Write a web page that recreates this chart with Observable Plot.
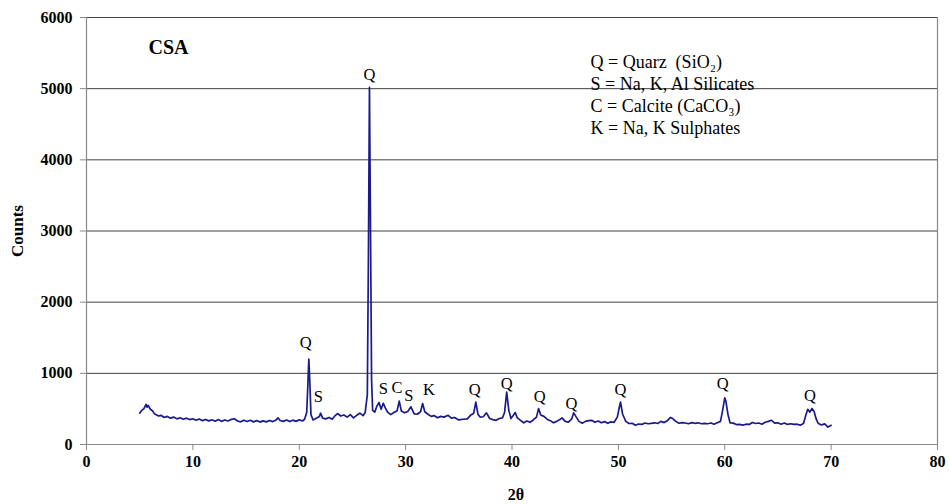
<!DOCTYPE html>
<html>
<head>
<meta charset="utf-8">
<script src="https://cdn.jsdelivr.net/npm/d3@7"></script>
<script src="https://cdn.jsdelivr.net/npm/@observablehq/plot@0.6"></script>
<style>
  html, body { margin: 0; padding: 0; background: #fff; }
  #chart { width: 949px; height: 504px; }
  #chart svg, #chart svg text { font-family: "Liberation Serif", "Times New Roman", serif; }
</style>
</head>
<body>
<div id="chart"></div>
<script>
// 2θ positions (degrees) of the XRD trace
const twoTheta = [
  5.0,5.2,5.4,5.6,5.7,5.8,6.0,6.2,6.4,6.6,6.8,7.0,7.3,7.6,7.9,8.2,8.5,8.8,9.1,9.4,9.7,
  10.0,10.3,10.6,10.9,11.2,11.5,11.8,12.1,12.4,12.7,13.0,13.3,13.6,13.9,14.2,14.5,14.8,
  15.1,15.4,15.7,16.0,16.3,16.6,16.9,17.2,17.5,17.8,18.0,18.2,18.5,18.8,19.1,19.4,19.7,
  20.0,20.3,20.5,20.7,20.8,20.9,21.0,21.1,21.3,21.6,21.9,22.0,22.2,22.5,22.8,23.1,23.4,
  23.6,23.9,24.2,24.5,24.8,25.1,25.4,25.7,26.0,26.2,26.4,26.5,26.6,26.7,26.8,26.9,27.1,
  27.3,27.5,27.7,27.9,28.1,28.3,28.6,28.9,29.2,29.4,29.6,29.9,30.2,30.5,30.8,31.1,31.4,
  31.6,31.8,32.1,32.4,32.7,33.0,33.3,33.6,34.0,34.3,34.6,35.0,35.4,35.8,36.1,36.4,36.6,
  36.8,37.0,37.3,37.6,37.9,38.2,38.5,38.8,39.1,39.3,39.5,39.7,39.9,40.1,40.3,40.5,40.8,
  41.1,41.4,41.7,42.0,42.3,42.5,42.7,43.0,43.3,43.6,43.9,44.2,44.5,44.7,45.0,45.3,45.6,
  45.8,46.0,46.3,46.6,46.9,47.2,47.5,47.8,48.1,48.4,48.7,49.0,49.3,49.6,49.9,50.1,50.2,
  50.4,50.7,51.0,51.3,51.6,51.9,52.2,52.5,52.8,53.1,53.4,53.7,54.0,54.3,54.6,54.9,55.1,
  55.4,55.7,56.0,56.3,56.6,56.9,57.2,57.5,57.8,58.1,58.4,58.7,59.0,59.3,59.6,59.8,60.0,
  60.1,60.3,60.5,60.8,61.1,61.4,61.7,62.0,62.3,62.6,62.9,63.2,63.5,63.8,64.1,64.4,64.7,
  65.0,65.3,65.6,65.9,66.2,66.5,66.8,67.1,67.4,67.6,67.8,68.0,68.2,68.4,68.6,68.8,69.1,
  69.4,69.7,70.0
];
// Counts
const counts = [
  440,480,505,565,525,550,495,475,430,415,400,410,380,395,370,385,360,375,355,370,350,
  362,340,358,335,352,332,348,328,350,325,345,330,352,362,330,318,342,
  322,340,318,336,315,332,318,338,322,342,375,338,325,345,322,342,325,
  348,330,355,450,800,1200,850,420,345,370,395,440,370,360,380,355,410,
  435,400,415,385,420,375,410,440,405,450,700,2600,5020,3000,900,480,455,
  540,590,495,580,510,455,420,450,475,610,470,445,465,530,430,425,460,
  575,460,425,395,405,375,395,385,410,370,380,345,355,360,410,440,595,
  425,385,390,445,365,350,340,365,375,450,735,480,365,405,450,375,340,
  305,330,312,345,385,505,415,395,355,335,305,325,350,375,325,315,355,
  445,395,325,300,325,335,340,312,330,305,322,298,318,312,385,530,595,
  425,325,295,298,270,288,282,302,292,298,305,295,325,308,335,380,365,
  325,298,308,302,292,308,298,305,292,298,292,302,285,305,325,480,655,
  615,425,305,300,280,282,272,285,282,310,295,302,285,312,325,340,300,
  305,285,302,282,292,282,285,272,295,400,495,455,505,465,355,295,275,
  290,245,270
];
// Peak annotations: label, 2θ, label height (counts)
const peakLabels = ["Q","S","Q","S","C","S","K","Q","Q","Q","Q","Q","Q","Q"];
const peakTheta  = [20.6,21.8,26.6,27.9,29.2,30.3,32.2,36.5,39.5,42.6,45.6,50.2,59.8,68.0];
const peakCounts = [1430,670,5200,790,800,690,770,770,860,670,580,770,860,690];

const xTicks = [0,10,20,30,40,50,60,70,80];
const yTicks = [0,1000,2000,3000,4000,5000,6000];
const gridValues = [1000,2000,3000,4000,5000,6000];
const legendLines = [
  "Q = Quarz  (SiO\u2082)",
  "S = Na, K, Al Silicates",
  "C = Calcite (CaCO\u2083)",
  "K = Na, K Sulphates"
];
const title = "CSA";
const xLabel = "2\u03b8";
const yLabel = "Counts";

const trace = twoTheta.map((t, i) => ({t, c: counts[i]}));
const peaks = peakLabels.map((l, i) => ({l, t: peakTheta[i], c: peakCounts[i]}));

const serif = "Liberation Serif, Times New Roman, serif";

const chart = Plot.plot({
  width: 949,
  height: 504,
  marginLeft: 86,
  marginRight: 12,
  marginTop: 17,
  marginBottom: 60,
  style: {fontFamily: serif, background: "#fff", overflow: "visible"},
  x: {domain: [0, 80], label: null},
  y: {domain: [0, 6000], label: null},
  marks: [
    Plot.ruleY(gridValues, {stroke: "#404040", strokeWidth: 1}),
    Plot.ruleX([80], {stroke: "#888", strokeWidth: 1.2}),
    Plot.ruleX([0], {stroke: "#888", strokeWidth: 1.2}),
    Plot.ruleY([0], {stroke: "#888", strokeWidth: 1.2}),
    Plot.axisX({ticks: xTicks, tickSize: 6, tickPadding: 5, stroke: "#888",
      fontSize: 16, fontWeight: "bold", fill: "#000", fontFamily: serif, tickFormat: "d", label: null}),
    Plot.axisY({ticks: yTicks, tickSize: 6, tickPadding: 8, stroke: "#888",
      fontSize: 16, fontWeight: "bold", fill: "#000", fontFamily: serif, tickFormat: "d", label: null}),
    Plot.line(trace, {x: "t", y: "c", stroke: "#1a1a8c", strokeWidth: 1.7, strokeLinejoin: "round"}),
    Plot.text(peaks, {x: "t", y: "c", text: "l", fontSize: 16.5, fill: "#000", fontFamily: serif}),
    Plot.text([title], {frameAnchor: "top-left", dx: 62, dy: 30, textAnchor: "start",
      lineAnchor: "middle", fontSize: 20, fontWeight: "bold", fill: "#000", fontFamily: serif}),
    Plot.text([legendLines.join("\n")], {frameAnchor: "top-left", dx: 504, dy: 35,
      textAnchor: "start", lineAnchor: "top", lineHeight: 1.22, fontSize: 18, fill: "#000", fontFamily: serif}),
    Plot.text([yLabel], {frameAnchor: "left", dx: -69, dy: 0, rotate: -90,
      textAnchor: "middle", lineAnchor: "middle",
      fontSize: 17, fontWeight: "bold", fill: "#000", fontFamily: serif}),
    Plot.text([xLabel], {frameAnchor: "bottom", dx: 4, dy: 50, textAnchor: "middle",
      lineAnchor: "middle", fontSize: 16, fontWeight: "bold", fill: "#000", fontFamily: serif})
  ]
});
document.getElementById("chart").appendChild(chart);
</script>
</body>
</html>
